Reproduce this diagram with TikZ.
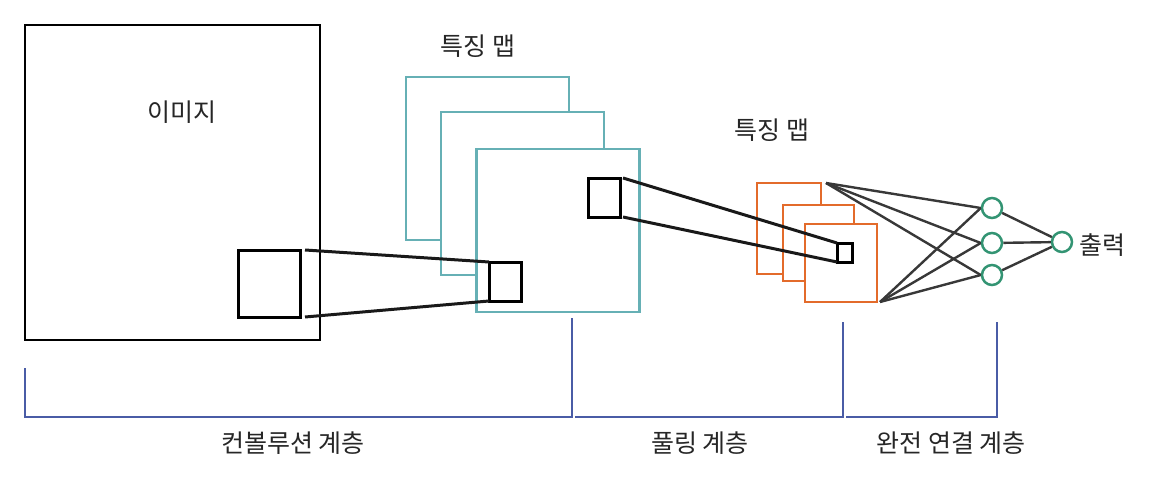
\documentclass[tikz,border=0pt]{standalone}
\usepackage{fontspec}
\newfontfamily\kor{Noto Sans CJK KR}
\newlength{\du}
\setlength{\du}{1pt}
\tikzset{
  sheet/.style={draw=dialinecolor, fill=white, line width=2.5\du, inner sep=0pt, outer sep=0pt},
  winbox/.style={draw=black, line width=3\du, inner sep=0pt, outer sep=0pt},
  neuron/.style={circle, draw=neurongreen, fill=white, line width=2.5\du, minimum size=20\du, inner sep=0pt},
  lbl/.style={font=\kor\fontsize{25}{30}\selectfont, text=black!85, inner sep=0pt},
}
\definecolor{mapteal}{rgb}{0.400000, 0.690000, 0.710000}
\definecolor{maporange}{rgb}{0.890000, 0.420000, 0.170000}
\definecolor{neurongreen}{rgb}{0.200000, 0.580000, 0.450000}
\definecolor{layerblue}{rgb}{0.290000, 0.360000, 0.650000}

\begin{document}
\begin{tikzpicture}
\pgftransformxscale{1.000000}
\pgftransformyscale{-1.000000}
\useasboundingbox (0\du,0\du) rectangle (1150\du,484\du);
% image
\definecolor{dialinecolor}{rgb}{0.000000, 0.000000, 0.000000}
\node[sheet, minimum width=295\du, minimum height=315\du] (img) at (172.5\du,182.5\du) {};
\node[lbl] (imglbl) at (182\du,112\du) {이미지};
\node[winbox, minimum width=62\du, minimum height=67\du] (imgwin) at (269\du,283.5\du) {};
% feature maps after convolution
\definecolor{dialinecolor}{rgb}{0.400000, 0.690000, 0.710000}
\node[sheet, minimum width=163\du, minimum height=163\du] (cmapA) at (487.5\du,158.5\du) {};
\node[sheet, minimum width=163\du, minimum height=163\du] (cmapB) at (522.5\du,193.5\du) {};
\node[sheet, minimum width=163\du, minimum height=163\du] (cmapC) at (558\du,230.5\du) {};
\node[lbl] (cmaplbl) at (478\du,46\du) {특징 맵};
\node[winbox, minimum width=32\du, minimum height=39\du] (cwinA) at (505\du,281.5\du) {};
\node[winbox, minimum width=32\du, minimum height=39\du] (cwinB) at (604\du,197.5\du) {};
% feature maps after pooling
\definecolor{dialinecolor}{rgb}{0.890000, 0.420000, 0.170000}
\node[sheet, line width=2.8\du, minimum width=64\du, minimum height=91\du] (pmapA) at (789\du,228.5\du) {};
\node[sheet, line width=2.8\du, minimum width=71\du, minimum height=76\du] (pmapB) at (818.5\du,243\du) {};
\node[sheet, line width=2.8\du, minimum width=72\du, minimum height=78\du] (pmapC) at (841\du,263\du) {};
\node[lbl] (pmaplbl) at (772\du,130\du) {특징 맵};
\node[winbox, minimum width=15\du, minimum height=19\du] (pwin) at (844.5\du,252.5\du) {};
% fully connected
\node[neuron] (hA) at (992\du,208\du) {};
\node[neuron] (hB) at (992\du,243\du) {};
\node[neuron] (hC) at (992\du,275\du) {};
\node[neuron] (out) at (1062\du,242\du) {};
\node[lbl, anchor=west] (outlbl) at (1079\du,245\du) {출력};
\coordinate (fanTop) at ([xshift=5\du]pmapA.north east);
\coordinate (fanBot) at ([xshift=3\du]pmapC.south east);

\pgfsetlinewidth{3.000000\du}
\pgfsetbuttcap
{
\definecolor{dialinecolor}{rgb}{0.100000, 0.100000, 0.100000}
\pgfsetstrokecolor{dialinecolor}
\draw ([xshift=5\du]imgwin.north east)--(cwinA.north west);
\draw ([xshift=5\du]imgwin.south east)--(cwinA.south west);
\draw ([xshift=3\du]cwinB.north east)--(pwin.north west);
\draw ([xshift=3\du]cwinB.south east)--(pwin.south west);
}
\pgfsetlinewidth{2.400000\du}
{
\definecolor{dialinecolor}{rgb}{0.220000, 0.220000, 0.220000}
\pgfsetstrokecolor{dialinecolor}
\foreach \h in {hA,hB,hC}{
  \draw (fanTop)--(\h.west);
  \draw (fanBot)--(\h.west);
  \draw (\h)--(out);
}
}
% layer brackets
\pgfsetlinewidth{2.400000\du}
{
\pgfsetstrokecolor{layerblue}
\draw (25\du,368\du)--(25\du,417\du)--(572\du,417\du)--(572\du,318\du);
\draw (575\du,417\du)--(843\du,417\du)--(843\du,322\du);
\draw (846\du,417\du)--(997\du,417\du)--(997\du,322\du);
}
\node[lbl] (convlbl) at (293\du,443\du) {컨볼루션 계층};
\node[lbl] (poollbl) at (700\du,443\du) {풀링 계층};
\node[lbl] (fclbl) at (951\du,443\du) {완전 연결 계층};
\end{tikzpicture}
\end{document}
